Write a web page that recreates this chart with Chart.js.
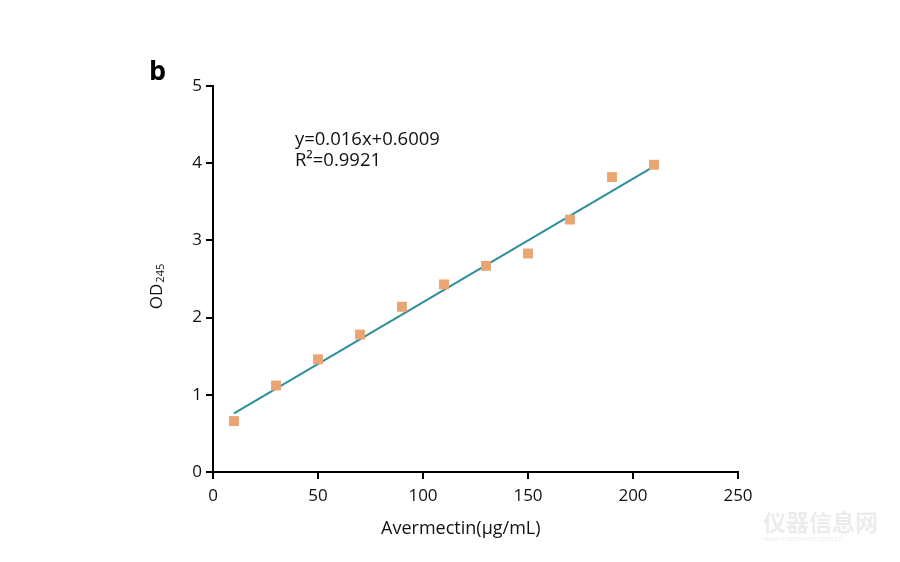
<!DOCTYPE html>
<html>
<head>
<meta charset="utf-8">
<script src="https://cdn.jsdelivr.net/npm/chart.js@4.4.0/dist/chart.umd.min.js"></script>
<style>
  html, body { margin: 0; padding: 0; background: #fff; }
  #wrap { width: 900px; height: 562px; }
</style>
</head>
<body>
<div id="wrap"><canvas id="myChart" width="900" height="562"></canvas></div>
<script>
// concentrations and measured OD values
var concentrations = [10, 30, 50, 70, 90, 110, 130, 150, 170, 190, 210];
var odValues = [0.66, 1.12, 1.46, 1.78, 2.14, 2.43, 2.67, 2.83, 3.27, 3.82, 3.98];
// fitted line end points
var fitX = [10, 210];
var fitY = [0.76, 3.96];
var equationLines = ['y=0.016x+0.6009', 'R\u00B2=0.9921'];
var xTitle = 'Avermectin(\u03BCg/mL)';

var FONT = "'Open Sans', 'Noto Sans', sans-serif";

var extras = {
    id: 'extras',
    afterDraw: function (chart) {
        var c = chart.ctx;
        var xs = chart.scales.x, ys = chart.scales.y;
        c.save();
        // panel letter
        c.fillStyle = '#000';
        c.font = 'bold 27px ' + FONT;
        c.textAlign = 'left';
        c.textBaseline = 'middle';
        c.fillText('b', 149, 72);

        // equation text
        c.font = '18.5px ' + FONT;
        c.fillStyle = '#111';
        var ex = xs.getPixelForValue(39);
        c.fillText(equationLines[0], ex, ys.getPixelForValue(4.3));
        c.fillText(equationLines[1], ex, ys.getPixelForValue(4.03));

        // x axis title (sits a little left of axis centre in the original)
        c.font = '18px ' + FONT;
        c.textAlign = 'center';
        c.fillText(xTitle, xs.getPixelForValue(118), 529);
        c.textAlign = 'left';

        // y axis title with subscript
        c.translate(157, 287);
        c.rotate(-Math.PI / 2);
        c.font = '17px ' + FONT;
        var w1 = c.measureText('OD').width;
        c.font = '11px ' + FONT;
        var w2 = c.measureText('245').width;
        var start = -(w1 + w2) / 2;
        c.font = '17px ' + FONT;
        c.fillStyle = '#111';
        c.fillText('OD', start, 0);
        c.font = '11px ' + FONT;
        c.fillText('245', start + w1 + 1, 4);
        c.restore();

        // faint watermark
        c.save();
        c.font = 'bold 23px "Noto Sans CJK SC", sans-serif';
        c.fillStyle = 'rgba(200,200,200,0.35)';
        c.textBaseline = 'middle';
        c.fillText('仪器信息网', 763, 522);
        c.font = '7px ' + FONT;
        c.fillText('www.instrument.com.cn', 763, 539);
        c.restore();
    }
};

var ctx = document.getElementById('myChart');
var myChart = new Chart(ctx, {
    type: 'scatter',
    data: {
        datasets: [{
            type: 'line',
            label: 'fit',
            data: fitX.map(function (x, i) { return { x: x, y: fitY[i] }; }),
            borderColor: '#2f8e9c',
            borderWidth: 2,
            pointRadius: 0,
            fill: false,
            order: 2
        }, {
            label: 'OD',
            data: concentrations.map(function (x, i) { return { x: x, y: odValues[i] }; }),
            pointStyle: 'rect',
            pointRadius: 7,
            pointHoverRadius: 7,
            backgroundColor: '#e9a673',
            borderWidth: 0,
            order: 1
        }]
    },
    options: {
        responsive: false,
        animation: false,
        layout: { padding: { left: 153, right: 162, top: 86, bottom: 18 } },
        plugins: {
            legend: { display: false },
            tooltip: { enabled: false }
        },
        scales: {
            x: {
                type: 'linear',
                min: 0,
                max: 250,
                afterFit: function (s) { s.height = 72; },
                ticks: { stepSize: 50, color: '#111', font: { family: FONT, size: 17 }, padding: 7 },
                grid: { drawOnChartArea: false, drawTicks: true, tickLength: 7, color: '#000', lineWidth: 2 },
                border: { display: true, color: '#000', width: 2 }
            },
            y: {
                min: 0,
                max: 5,
                afterFit: function (s) { s.width = 60; },
                ticks: { stepSize: 1, color: '#111', font: { family: FONT, size: 17 }, padding: 4 },
                grid: { drawOnChartArea: false, drawTicks: true, tickLength: 7, color: '#000', lineWidth: 2 },
                border: { display: true, color: '#000', width: 2 }
            }
        }
    },
    plugins: [extras]
});
</script>
</body>
</html>
